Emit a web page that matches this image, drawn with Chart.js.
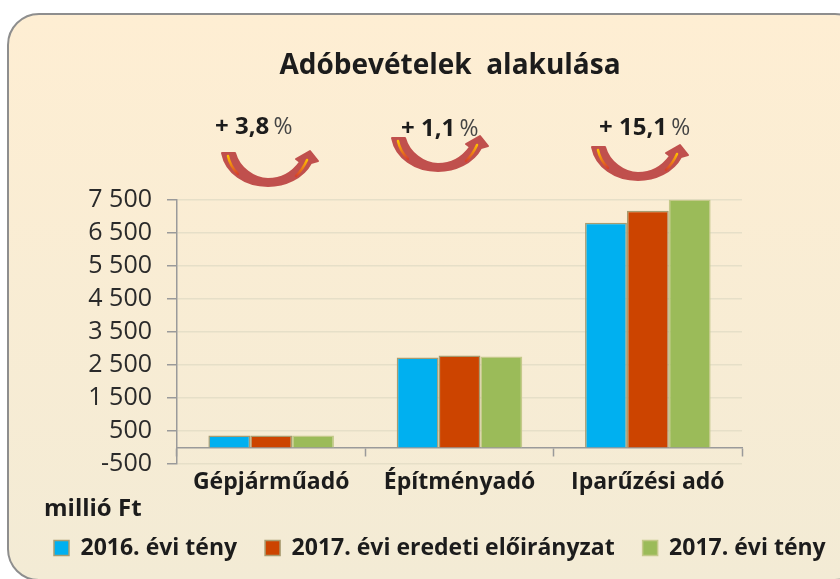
<!DOCTYPE html>
<html lang="hu">
<head>
<meta charset="utf-8">
<title>Adóbevételek alakulása</title>
<script src="https://cdn.jsdelivr.net/npm/chart.js@4/dist/chart.umd.min.js"></script>
<style>
html,body{margin:0;padding:0;background:#fff;width:840px;height:579px;overflow:hidden}
#panel{position:absolute;left:7px;top:13px;width:860px;height:568px;box-sizing:border-box;border:2.5px solid #8e8e8e;border-radius:32px;background:linear-gradient(180deg,#feeed3 0%,#f3ebd5 100%)}
#wrap{position:absolute;left:0;top:0;width:840px;height:579px}
</style>
</head>
<body>
<div id="panel"></div>
<div id="wrap"><canvas id="c" width="840" height="579"></canvas></div>
<script>
const categories = ['Gépjárműadó', 'Építményadó', 'Iparűzési adó'];
const seriesNames = ['2016. évi tény', '2017. évi eredeti előirányzat', '2017. évi tény'];
const values2016 = [360, 2720, 6800];
const values2017Plan = [360, 2780, 7165];
const values2017 = [365, 2750, 7500];
const yTicks = [-500, 500, 1500, 2500, 3500, 4500, 5500, 6500, 7500];
const changeLabels = ['+ 3,8', '+ 1,1', '+ 15,1'];
const titleText = 'Adóbevételek  alakulása';
const unitLabel = 'millió Ft';

const FONT = '"Open Sans", Lato, sans-serif';
const INK = '#1c1c1c';

// decorative curved arrows with the percentage notes above the plot
const notes = [
  {dx: 0, dy: 0, tx: 215, ty: 127},
  {dx: 170, dy: -15, tx: 401, ty: 129},
  {dx: 370, dy: -6, tx: 599, ty: 128}
];
function drawArrow(ctx, dx, dy) {
  ctx.save();
  ctx.translate(dx, dy);
  ctx.beginPath();
  ctx.moveTo(222, 153);
  ctx.lineTo(235, 153);
  ctx.bezierCurveTo(239, 168, 254, 179, 268, 179);
  ctx.bezierCurveTo(281, 179, 292, 173, 300, 162);
  ctx.lineTo(296, 159);
  ctx.lineTo(310, 151);
  ctx.lineTo(318, 161);
  ctx.lineTo(311, 163);
  ctx.bezierCurveTo(303, 178, 285, 186, 268, 186);
  ctx.bezierCurveTo(245, 186, 226, 173, 222, 153);
  ctx.closePath();
  ctx.fillStyle = '#c0504d';
  ctx.strokeStyle = '#c0504d';
  ctx.lineWidth = 2;
  ctx.lineJoin = 'round';
  ctx.fill();
  ctx.stroke();
  ctx.lineCap = 'round';
  ctx.lineWidth = 2.5;
  let g = ctx.createLinearGradient(228, 156, 238, 174);
  g.addColorStop(0, '#ffc000');
  g.addColorStop(1, '#d8402a');
  ctx.strokeStyle = g;
  ctx.beginPath();
  ctx.moveTo(228, 156);
  ctx.quadraticCurveTo(230, 166, 238, 174);
  ctx.stroke();
  g = ctx.createLinearGradient(308, 160, 296, 176);
  g.addColorStop(0, '#ffc000');
  g.addColorStop(1, '#d8402a');
  ctx.strokeStyle = g;
  ctx.beginPath();
  ctx.moveTo(307, 160);
  ctx.quadraticCurveTo(303, 169, 296, 176);
  ctx.stroke();
  ctx.restore();
}
const notesPlugin = {
  id: 'notes',
  beforeLayout(chart) {
    const lg = chart.legend;
    if (lg && !lg._wide) {
      const fit = lg.fit;
      lg.fit = function () { this.maxWidth = 840; fit.call(this); };
      lg._wide = true;
    }
  },
  afterLayout(chart) {
    const lg = chart.legend;
    if (lg) {
      const h = lg.height;
      lg.top = 539 - h / 2; lg.bottom = lg.top + h;
      lg.left = 54 - lg.options.labels.padding; lg.right = 900; lg.width = 900;
    }
    const t = chart.titleBlock;
    if (t) { t.left = 0; t.right = 900; t.width = 900; t.top = 49; t.bottom = 49 + t.height; }
  },
  afterDraw(chart) {
    const ctx = chart.ctx;
    notes.forEach((n, i) => {
      drawArrow(ctx, n.dx, n.dy);
      ctx.save();
      ctx.textBaseline = 'middle';
      ctx.textAlign = 'left';
      ctx.fillStyle = INK;
      ctx.font = 'bold 24px ' + FONT;
      const s = changeLabels[i] + ' ';
      ctx.fillText(s, n.tx, n.ty);
      const w = ctx.measureText(s).width;
      ctx.font = '23px ' + FONT;
      ctx.fillStyle = '#444';
      ctx.fillText('%', n.tx + w - 2, n.ty);
      ctx.restore();
    });
    ctx.save();
    ctx.textBaseline = 'middle';
    ctx.textAlign = 'left';
    ctx.fillStyle = INK;
    ctx.font = 'bold 24px ' + FONT;
    ctx.fillText(unitLabel, 44, 509);
    ctx.restore();
  }
};

const barBase = {borderWidth: 1.5, categoryPercentage: 2 / 3, barPercentage: 1};
new Chart(document.getElementById('c'), {
  type: 'bar',
  data: {
    labels: categories,
    datasets: [
      {label: seriesNames[0], data: values2016, backgroundColor: '#00b0f0', borderColor: '#a89c70', ...barBase},
      {label: seriesNames[1], data: values2017Plan, backgroundColor: '#cc4400', borderColor: '#a89c70', ...barBase},
      {label: seriesNames[2], data: values2017, backgroundColor: '#9bbb59', borderColor: '#c4c98a', ...barBase}
    ]
  },
  plugins: [notesPlugin],
  options: {
    responsive: false,
    animation: false,
    layout: {padding: {top: 166, right: 98, bottom: 54, left: 0}},
    plugins: {
      tooltip: {enabled: false},
      title: {display: true, text: titleText, color: INK, font: {family: FONT, size: 28, weight: 'bold'}, padding: 0},
      legend: {
        display: true, position: 'bottom', align: 'start',
        labels: {color: INK, boxWidth: 15, boxHeight: 15, padding: 28, font: {family: FONT, size: 23, weight: 'bold'}}
      }
    },
    scales: {
      x: {
        position: {y: 0},
        offset: true,
        border: {display: true, color: '#9a9a9a', width: 1.5},
        grid: {display: true, drawOnChartArea: false, drawTicks: true, tickLength: 8, tickColor: '#9a9a9a', tickWidth: 1.5, offset: true},
        ticks: {color: INK, padding: 13, maxRotation: 0, font: {family: FONT, size: 23, weight: 'bold'}}
      },
      y: {
        min: -500, max: 7500,
        afterBuildTicks(scale) { scale.ticks = yTicks.map(v => ({value: v})); },
        afterFit(scale) { scale.width = 177; },
        border: {display: true, color: '#9a9a9a', width: 1.5},
        grid: {color: '#e6dfc8', lineWidth: 1.5, tickColor: '#9a9a9a', tickLength: 10, tickWidth: 1.5},
        ticks: {
          autoSkip: false,
          color: '#2a2a2a', padding: 15, font: {family: FONT, size: 25},
          callback(v) {
            const a = Math.abs(v);
            const th = Math.floor(a / 1000);
            return (v < 0 ? '-' : '') + (th ? th + ' ' : '') + String(a % 1000).padStart(th ? 3 : 1, '0');
          }
        }
      }
    }
  }
});
</script>
</body>
</html>
